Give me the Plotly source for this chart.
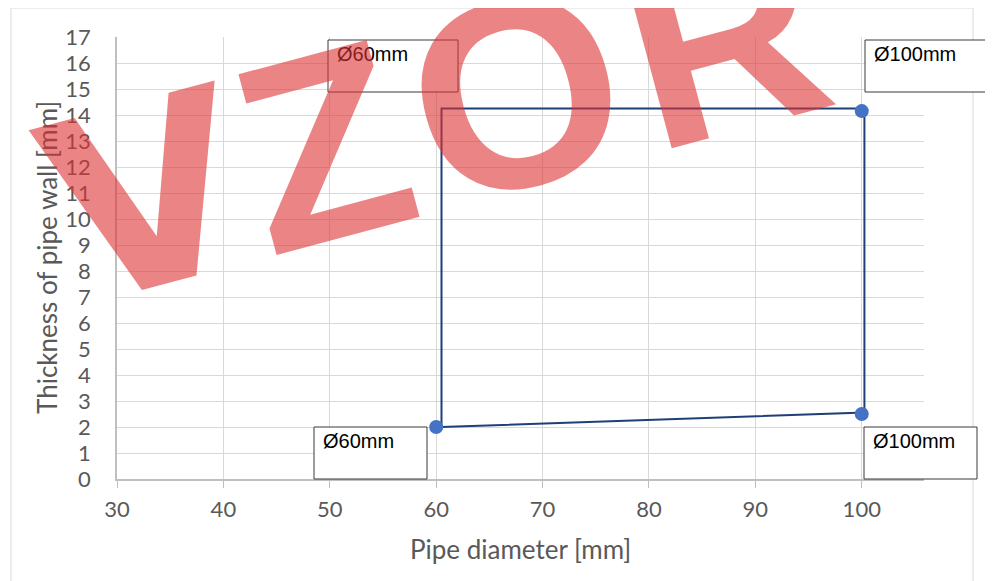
import plotly.graph_objects as go

# marker points (pipe diameter vs wall thickness)
diameter = [60, 100, 100]
thickness = [2.0, 2.5, 14.15]

# outline of the allowed region
outline_x = [60.5, 60.5, 100.25, 100.25, 60.5]
outline_y = [2.0, 14.25, 14.25, 2.56, 2.0]

label_texts = ["Ø60mm", "Ø100mm", "Ø60mm", "Ø100mm"]
x_ticks = [30, 40, 50, 60, 70, 80, 90, 100]
y_ticks = list(range(0, 18))
watermark = ["V", "Z", "O", "R"]

# page is drawn with the default 8px body margin
OFF = 8
W, H = 985, 573
L, R, T, B = 109, 69, 29, 102
PW, PH = W - L - R, H - T - B


def px(x):
    # page pixel -> paper x
    return (x - OFF - L) / PW


def py(y):
    # page pixel -> paper y
    return (OFF + T + PH - y) / PH


GRAY = "#595959"
AXFONT = dict(family="Lato", size=22, color=GRAY)

fig = go.Figure()
fig.add_trace(go.Scatter(x=outline_x, y=outline_y, mode="lines",
                         line=dict(color="#1f3f77", width=2), hoverinfo="skip"))
fig.add_trace(go.Scatter(x=diameter, y=thickness, mode="markers",
                         marker=dict(color="#4472c4", size=14)))

# label boxes (page pixels): left, top, right, bottom
boxes = [(328, 40, 458, 92), (865, 40, 1010, 92), (314, 427, 427, 479), (864, 427, 977, 479)]
shapes = [dict(type="rect", xref="paper", yref="paper",
               x0=px(11), x1=px(973), y0=py(8), y1=py(600),
               line=dict(color="#d9d9d9", width=1), fillcolor="rgba(0,0,0,0)", layer="below")]
annotations = []
for (x0, y0, x1, y1), txt in zip(boxes, label_texts):
    shapes.append(dict(type="rect", xref="paper", yref="paper",
                       x0=px(x0), x1=px(x1), y0=py(y0), y1=py(y1),
                       line=dict(color="#3a3a3a", width=1), fillcolor="white", layer="above"))
    annotations.append(dict(xref="paper", yref="paper", x=px(x0 + 7), y=py(y0 + 1),
                            xanchor="left", yanchor="top", showarrow=False, text=txt,
                            font=dict(family="Liberation Sans", size=20, color="black")))

annotations.append(dict(xref="paper", yref="paper", x=px(520), y=py(549), showarrow=False,
                        xanchor="center", yanchor="middle",
                        text="Pipe diameter [mm]", font=dict(family="Lato", size=26, color=GRAY)))
annotations.append(dict(xref="paper", yref="paper", x=px(47), y=py(258), showarrow=False,
                        xanchor="center", yanchor="middle",
                        textangle=-90, text="Thickness of pipe wall [mm]",
                        font=dict(family="Lato", size=26, color=GRAY)))

# watermark letters, centre of each glyph in page pixels
letter_pos = [(146, 198), (324, 146), (516, 93), (724, 38)]
letter_font = [("DejaVu Sans", 252), ("Liberation Sans", 268),
               ("Liberation Sans", 268), ("Liberation Sans", 268)]
for ch, (cx, cy), (fam, sz) in zip(watermark, letter_pos, letter_font):
    annotations.append(dict(xref="paper", yref="paper", x=px(cx), y=py(cy), showarrow=False,
                            xanchor="center", yanchor="middle", textangle=-15,
                            text="<b>%s</b>" % ch,
                            font=dict(family=fam, size=sz, color="rgba(222,50,50,0.6)")))

fig.update_layout(
    width=W, height=H, margin=dict(l=L, r=R, t=T, b=B),
    plot_bgcolor="white", paper_bgcolor="white", showlegend=False,
    shapes=shapes, annotations=annotations,
    xaxis=dict(range=[30, 105.85], tickmode="array", tickvals=x_ticks,
               showgrid=True, gridcolor="#d9d9d9", gridwidth=1,
               showline=True, linecolor="#bfbfbf", linewidth=1.5,
               ticks="outside", ticklen=7, tickcolor="#bfbfbf",
               ticklabelstandoff=3, tickfont=AXFONT, zeroline=False),
    yaxis=dict(range=[0, 17], tickmode="array", tickvals=y_ticks,
               showgrid=True, gridcolor="#d9d9d9", gridwidth=1,
               showline=True, linecolor="#bfbfbf", linewidth=1.5,
               ticks="", ticklabelstandoff=20,
               tickfont=AXFONT, zeroline=False),
)

fig.write_html("out.html")
